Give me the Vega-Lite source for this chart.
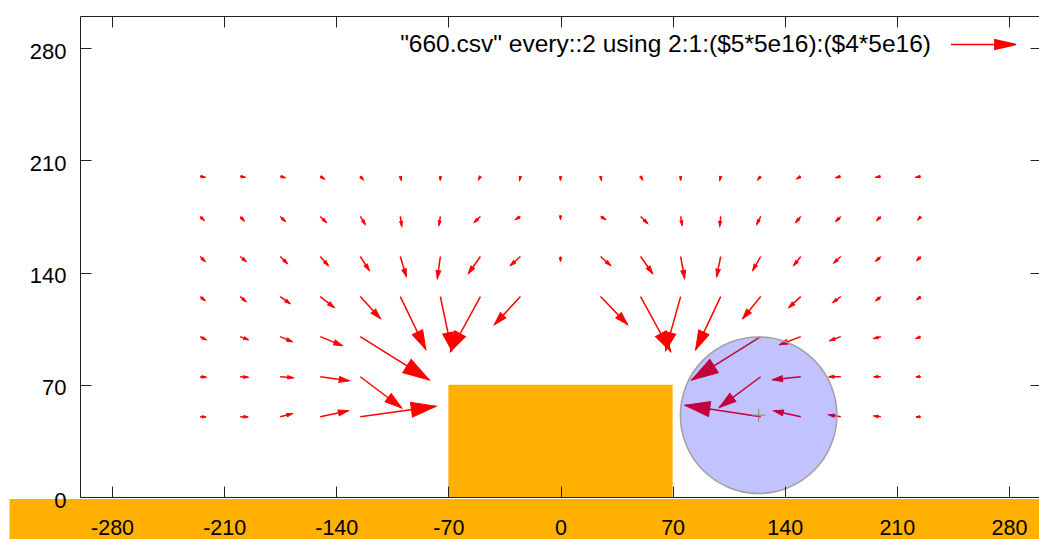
{
  "$schema": "https://vega.github.io/schema/vega-lite/v6.json",
  "width": 961,
  "height": 481,
  "autosize": "none",
  "padding": {"left": 80, "top": 16, "right": 0, "bottom": 42},
  "background": "#ffffff",
  "config": {
    "view": {"stroke": "#222222", "strokeWidth": 1},
    "axis": {"grid": false, "domain": false, "title": null, "labelFont": "Liberation Sans", "labelFontSize": 22, "labelColor": "#000000", "tickColor": "#222222", "tickSize": -11, "tickWidth": 1, "labelFlush": false, "labelOverlap": false, "zindex": 2, "labelExpr": "toString(datum.value)"}
  },
  "datasets": {
    "blocks": [
      {"x": -344, "x2": 320, "y": -1.3, "y2": -40},
      {"x": -70, "x2": 70, "y": 0, "y2": 70}
    ],
    "circle": [{"x": 123.7, "y": 51}],
    "field": [
      {"x": -225, "y": 200, "xe": -221.9, "ye": 199.4},
      {"x": -200, "y": 200, "xe": -196.9, "ye": 199.4},
      {"x": -175, "y": 200, "xe": -171.9, "ye": 199.1},
      {"x": -150, "y": 200, "xe": -147.5, "ye": 198.4},
      {"x": -125, "y": 200, "xe": -123.1, "ye": 197.8},
      {"x": -100, "y": 200, "xe": -99.4, "ye": 197.5},
      {"x": -75, "y": 200, "xe": -75, "ye": 197.5},
      {"x": -50, "y": 200, "xe": -51.3, "ye": 197.8},
      {"x": -25, "y": 200, "xe": -25.6, "ye": 197.5},
      {"x": 0, "y": 200, "xe": 0, "ye": 197.5},
      {"x": 25, "y": 200, "xe": 25.6, "ye": 197.5},
      {"x": 50, "y": 200, "xe": 51.3, "ye": 197.8},
      {"x": 75, "y": 200, "xe": 75, "ye": 197.5},
      {"x": 100, "y": 200, "xe": 99.4, "ye": 197.5},
      {"x": 125, "y": 200, "xe": 123.1, "ye": 197.8},
      {"x": 150, "y": 200, "xe": 147.5, "ye": 198.4},
      {"x": 175, "y": 200, "xe": 171.9, "ye": 199.1},
      {"x": 200, "y": 200, "xe": 196.9, "ye": 199.4},
      {"x": 225, "y": 200, "xe": 221.9, "ye": 199.4},

      {"x": -225, "y": 175, "xe": -222.5, "ye": 172.5},
      {"x": -200, "y": 175, "xe": -197.5, "ye": 172.2},
      {"x": -175, "y": 175, "xe": -171.9, "ye": 171.9},
      {"x": -150, "y": 175, "xe": -146.3, "ye": 171.3},
      {"x": -125, "y": 175, "xe": -121.9, "ye": 170},
      {"x": -100, "y": 175, "xe": -99.1, "ye": 168.8},
      {"x": -75, "y": 175, "xe": -75.9, "ye": 169.4},
      {"x": -50, "y": 175, "xe": -53.8, "ye": 171.3},
      {"x": -25, "y": 175, "xe": -28.1, "ye": 173.1},
      {"x": 0, "y": 175, "xe": 0, "ye": 173.1},
      {"x": 25, "y": 175, "xe": 28.1, "ye": 173.1},
      {"x": 50, "y": 175, "xe": 54.4, "ye": 170.6},
      {"x": 75, "y": 175, "xe": 75.9, "ye": 169.4},
      {"x": 100, "y": 175, "xe": 99.4, "ye": 168.8},
      {"x": 125, "y": 175, "xe": 122.5, "ye": 170},
      {"x": 150, "y": 175, "xe": 146.9, "ye": 171.3},
      {"x": 175, "y": 175, "xe": 171.9, "ye": 171.9},
      {"x": 200, "y": 175, "xe": 197.5, "ye": 172.5},
      {"x": 225, "y": 175, "xe": 223.1, "ye": 172.8},

      {"x": -225, "y": 150, "xe": -221.9, "ye": 146.9},
      {"x": -200, "y": 150, "xe": -196.3, "ye": 146.9},
      {"x": -175, "y": 150, "xe": -170.6, "ye": 145.6},
      {"x": -150, "y": 150, "xe": -145, "ye": 144.4},
      {"x": -125, "y": 150, "xe": -119.4, "ye": 141.3},
      {"x": -100, "y": 150, "xe": -96.3, "ye": 137.5},
      {"x": -75, "y": 150, "xe": -76.9, "ye": 136.3},
      {"x": -50, "y": 150, "xe": -57.5, "ye": 139.4},
      {"x": -25, "y": 150, "xe": -31.3, "ye": 144.4},
      {"x": 0, "y": 150, "xe": 0, "ye": 146.9},
      {"x": 25, "y": 150, "xe": 31.3, "ye": 144.4},
      {"x": 50, "y": 150, "xe": 57.5, "ye": 139.4},
      {"x": 75, "y": 150, "xe": 77.5, "ye": 136.3},
      {"x": 100, "y": 150, "xe": 97.5, "ye": 137.5},
      {"x": 125, "y": 150, "xe": 120, "ye": 141.3},
      {"x": 150, "y": 150, "xe": 145.6, "ye": 144.4},
      {"x": 175, "y": 150, "xe": 170.6, "ye": 145.9},
      {"x": 200, "y": 150, "xe": 196.9, "ye": 147.2},
      {"x": 225, "y": 150, "xe": 222.5, "ye": 147.5},

      {"x": -225, "y": 125, "xe": -221.9, "ye": 122.5},
      {"x": -200, "y": 125, "xe": -196.3, "ye": 121.9},
      {"x": -175, "y": 125, "xe": -168.8, "ye": 120.6},
      {"x": -150, "y": 125, "xe": -141.3, "ye": 118.1},
      {"x": -125, "y": 125, "xe": -112.5, "ye": 111.3},
      {"x": -100, "y": 125, "xe": -84.1, "ye": 92},
      {"x": -75, "y": 125, "xe": -67.9, "ye": 91.3},
      {"x": -50, "y": 125, "xe": -68.8, "ye": 90.6},
      {"x": -25, "y": 125, "xe": -41.3, "ye": 107.5},
      {"x": 25, "y": 125, "xe": 41.9, "ye": 107.5},
      {"x": 50, "y": 125, "xe": 68.8, "ye": 90.6},
      {"x": 75, "y": 125, "xe": 65.6, "ye": 91.3},
      {"x": 100, "y": 125, "xe": 84.4, "ye": 91.9},
      {"x": 125, "y": 125, "xe": 113.8, "ye": 111.3},
      {"x": 150, "y": 125, "xe": 142.5, "ye": 118.1},
      {"x": 175, "y": 125, "xe": 170, "ye": 121.3},
      {"x": 200, "y": 125, "xe": 196.9, "ye": 122.5},
      {"x": 225, "y": 125, "xe": 222.5, "ye": 123.1},

      {"x": -225, "y": 100, "xe": -221.3, "ye": 98.1},
      {"x": -200, "y": 100, "xe": -195, "ye": 98.1},
      {"x": -175, "y": 100, "xe": -167.5, "ye": 96.9},
      {"x": -150, "y": 100, "xe": -136.3, "ye": 94.4},
      {"x": -125, "y": 100, "xe": -81.9, "ye": 73},
      {"x": 125, "y": 100, "xe": 81.9, "ye": 73},
      {"x": 150, "y": 100, "xe": 136.9, "ye": 95},
      {"x": 175, "y": 100, "xe": 168.1, "ye": 97.5},
      {"x": 200, "y": 100, "xe": 195.6, "ye": 98.8},
      {"x": 225, "y": 100, "xe": 221.9, "ye": 98.8},

      {"x": -225, "y": 75, "xe": -221.3, "ye": 74.7},
      {"x": -200, "y": 75, "xe": -195, "ye": 74.7},
      {"x": -175, "y": 75, "xe": -166.9, "ye": 74.4},
      {"x": -150, "y": 75, "xe": -131.9, "ye": 72.5},
      {"x": -125, "y": 75, "xe": -99.1, "ye": 55.5},
      {"x": 125, "y": 75, "xe": 99.1, "ye": 55.8},
      {"x": 150, "y": 75, "xe": 132.5, "ye": 73.1},
      {"x": 175, "y": 75, "xe": 167.5, "ye": 75},
      {"x": 200, "y": 75, "xe": 195.6, "ye": 75},
      {"x": 225, "y": 75, "xe": 221.9, "ye": 75},

      {"x": -225, "y": 50, "xe": -221.3, "ye": 50},
      {"x": -200, "y": 50, "xe": -195, "ye": 50},
      {"x": -175, "y": 50, "xe": -167.5, "ye": 51.9},
      {"x": -150, "y": 50, "xe": -132.5, "ye": 53.8},
      {"x": -125, "y": 50, "xe": -77.7, "ye": 56.6},
      {"x": 125, "y": 50, "xe": 77.7, "ye": 57.2},
      {"x": 150, "y": 50, "xe": 133.1, "ye": 53.8},
      {"x": 175, "y": 50, "xe": 167.5, "ye": 51.3},
      {"x": 200, "y": 50, "xe": 195.6, "ye": 50.6},
      {"x": 225, "y": 50, "xe": 221.9, "ye": 50}
    ]
  },
  "resolve": {"axis": {"x": "independent", "y": "independent"}},
  "layer": [
    {
      "data": {"name": "blocks"},
      "mark": {"type": "rect", "color": "#ffb000", "opacity": 1},
      "encoding": {
        "x": {"field": "x", "type": "quantitative", "scale": {"domain": [-300, 300], "nice": false, "zero": false},
              "axis": {"orient": "bottom", "values": [-280, -210, -140, -70, 0, 70, 140, 210, 280], "labelPadding": 31, "labelFontSize": 21.5, "zindex": 2}},
        "x2": {"field": "x2"},
        "y": {"field": "y", "type": "quantitative", "scale": {"domain": [0, 300], "nice": false, "zero": false},
              "axis": {"orient": "left", "values": [0, 70, 140, 210, 280], "labelPadding": 25, "labelOffset": 3, "zindex": 2}},
        "y2": {"field": "y2"}
      }
    },
    {
      "data": {"name": "field"},
      "mark": {"type": "rule", "strokeWidth": 1.5, "opacity": 1},
      "encoding": {
        "x": {"field": "x", "type": "quantitative", "scale": {"domain": [-300, 300], "nice": false, "zero": false},
              "axis": {"orient": "top", "values": [-280, -210, -140, -70, 0, 70, 140, 210, 280], "labels": false, "zindex": 2}},
        "x2": {"field": "xe"},
        "y": {"field": "y", "type": "quantitative", "scale": {"domain": [0, 300], "nice": false, "zero": false},
              "axis": {"orient": "right", "values": [0, 70, 140, 210, 280], "labels": false, "zindex": 2}},
        "y2": {"field": "ye"},
        "stroke": {"datum": "\"660.csv\" every::2 using 2:1:($5*5e16):($4*5e16)", "type": "nominal",
                   "scale": {"range": ["#ff0000"]},
                   "legend": {"orient": "none", "legendX": 870, "legendY": -5, "title": null, "padding": 0,
                              "symbolType": "M-1,0L0.35,0M0.35,-0.15L1,0L0.35,0.15Z", "symbolSize": 4225,
                              "symbolStrokeWidth": 1.5, "symbolFillColor": "#ff0000", "symbolStrokeColor": "#ff0000",
                              "labelFont": "Liberation Sans", "labelFontSize": 24.5, "labelColor": "#000000",
                              "labelAlign": "right", "labelOffset": -86, "labelLimit": 0,
                              "encode": {"symbols": {"update": {"fill": {"value": "#ff0000"}, "stroke": {"value": "#ff0000"}}},
                                         "labels": {"update": {"dy": {"value": 3}}}}}}
      }
    },
    {
      "data": {"name": "field"},
      "transform": [
        {"calculate": "atan2(datum.xe - datum.x, datum.ye - datum.y) * 180 / PI", "as": "ang"},
        {"calculate": "sqrt(pow(datum.xe - datum.x, 2) + pow(datum.ye - datum.y, 2))", "as": "len"}
      ],
      "mark": {"type": "point", "shape": "M0,0L0.3,1L-0.3,1Z", "filled": true, "color": "#ff0000", "stroke": "#ff0000", "strokeWidth": 1, "opacity": 1},
      "encoding": {
        "x": {"field": "xe", "type": "quantitative", "scale": {"domain": [-300, 300], "nice": false, "zero": false}, "axis": null},
        "y": {"field": "ye", "type": "quantitative", "scale": {"domain": [0, 300], "nice": false, "zero": false}, "axis": null},
        "angle": {"field": "ang", "type": "quantitative", "scale": null},
        "size": {"field": "len", "type": "quantitative", "scale": {"type": "pow", "exponent": 2, "domain": [0, 50], "range": [50, 2700]}, "legend": null}
      }
    },
    {
      "data": {"name": "circle"},
      "mark": {"type": "point", "shape": "circle", "filled": true, "fill": "#0000ff", "fillOpacity": 0.24, "stroke": "#a0a0a0", "strokeWidth": 1.5, "strokeOpacity": 1, "opacity": 1, "size": 24500},
      "encoding": {
        "x": {"field": "x", "type": "quantitative", "scale": {"domain": [-300, 300], "nice": false, "zero": false}, "axis": null},
        "y": {"field": "y", "type": "quantitative", "scale": {"domain": [0, 300], "nice": false, "zero": false}, "axis": null}
      }
    },
    {
      "data": {"name": "circle"},
      "mark": {"type": "point", "shape": "M-1,0L1,0M0,-1L0,1", "filled": false, "stroke": "#8a8a6a", "strokeWidth": 1, "opacity": 1, "size": 169},
      "encoding": {
        "x": {"field": "x", "type": "quantitative", "scale": {"domain": [-300, 300], "nice": false, "zero": false}, "axis": null},
        "y": {"field": "y", "type": "quantitative", "scale": {"domain": [0, 300], "nice": false, "zero": false}, "axis": null}
      }
    }
  ]
}
